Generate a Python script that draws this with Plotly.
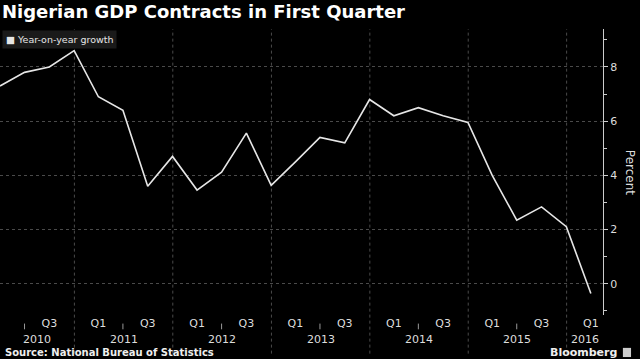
import plotly.graph_objects as go
import pandas as pd

# ---- data ----
quarters = ["2010-03-31", "2010-06-30", "2010-09-30", "2010-12-31",
            "2011-03-31", "2011-06-30", "2011-09-30", "2011-12-31",
            "2012-03-31", "2012-06-30", "2012-09-30", "2012-12-31",
            "2013-03-31", "2013-06-30", "2013-09-30", "2013-12-31",
            "2014-03-31", "2014-06-30", "2014-09-30", "2014-12-31",
            "2015-03-31", "2015-06-30", "2015-09-30", "2015-12-31",
            "2016-03-31"]
growth = [7.3, 7.8, 8.0, 8.6,
          6.9, 6.4, 3.6, 4.7,
          3.46, 4.12, 5.56, 3.63,
          4.5, 5.4, 5.2, 6.8,
          6.2, 6.5, 6.2, 5.95,
          4.0, 2.35, 2.84, 2.11,
          -0.36]
years = [2010, 2011, 2012, 2013, 2014, 2015, 2016]
tick_vals = ["2010-09-30", "2011-03-31", "2011-09-30", "2012-03-31", "2012-09-30",
             "2013-03-31", "2013-09-30", "2014-03-31", "2014-09-30",
             "2015-03-31", "2015-09-30", "2016-03-31"]
tick_text = ["Q3", "Q1", "Q3", "Q1", "Q3", "Q1", "Q3", "Q1", "Q3", "Q1", "Q3", "Q1"]
y_ticks = [0, 2, 4, 6, 8]

x_min = pd.Timestamp("2010-03-31")
x_max = pd.Timestamp("2016-05-15")

FONT = "DejaVu Sans"
TXT = "#dddddd"
GRID = "#4a4a4a"

fig = go.Figure()
fig.add_trace(go.Scatter(x=quarters, y=growth, mode="lines",
                         line=dict(color="#e6e6e6", width=1.6),
                         showlegend=False, name="Year-on-year growth"))

shapes = []
annotations = []
# year separators
for yr in years[1:]:
    d = pd.Timestamp(f"{yr}-01-01")
    shapes.append(dict(type="line", xref="x", yref="paper", x0=d, x1=d, y0=-0.135, y1=1,
                       line=dict(color=GRID, width=1, dash="dot"), layer="below"))
# mid-year small ticks and year labels
for yr in years:
    mid = pd.Timestamp(f"{yr}-06-30")
    if x_min <= mid <= x_max:
        shapes.append(dict(type="line", xref="x", yref="paper", x0=mid, x1=mid, y0=-0.03, y1=-0.05,
                           line=dict(color="#999999", width=1)))
    a = max(pd.Timestamp(f"{yr}-01-01"), x_min)
    b = min(pd.Timestamp(f"{yr + 1}-01-01"), x_max)
    c = a + (b - a) / 2
    annotations.append(dict(text=str(yr), xref="x", yref="paper", x=c, y=-0.085,
                            showarrow=False, font=dict(family=FONT, size=11, color=TXT),
                            xanchor="center", yanchor="middle"))

# legend-like box
annotations.append(dict(text="■ Year-on-year growth", xref="paper", yref="paper",
                        x=0.004, y=0.995, xanchor="left", yanchor="top", showarrow=False,
                        bgcolor="#1a1a1a", borderpad=3,
                        font=dict(family=FONT, size=9.5, color="#e6e6e6")))
# y-axis title
annotations.append(dict(text="Percent", xref="paper", yref="paper", x=1.045, y=0.5,
                        textangle=90, showarrow=False, xanchor="center", yanchor="middle",
                        font=dict(family=FONT, size=12, color=TXT)))
# footer
annotations.append(dict(text="<b>Source: National Bureau of Statistics</b>", xref="paper",
                        yref="paper", x=0.005, y=-0.13, xanchor="left", yanchor="middle",
                        showarrow=False,
                        font=dict(family=FONT, size=10, color="#eeeeee")))
annotations.append(dict(text="<b>Bloomberg</b>", xref="paper", yref="paper", x=1.027, y=-0.13,
                        xanchor="right", yanchor="middle", showarrow=False,
                        font=dict(family=FONT, size=11, color="#eeeeee")))
shapes.append(dict(type="rect", xref="paper", yref="paper", x0=1.033, x1=1.0465, y0=-0.147, y1=-0.115,
                   fillcolor="#cccccc", line=dict(width=0)))

fig.update_layout(
    width=640, height=359,
    paper_bgcolor="#000000", plot_bgcolor="#000000",
    margin=dict(l=0, r=37, t=29, b=44),
    title=dict(text="<b>Nigerian GDP Contracts in First Quarter</b>",
               x=0.003, xanchor="left", xref="container",
               y=0.985, yanchor="top", yref="container",
               font=dict(family=FONT, size=18, color="#ffffff")),
    xaxis=dict(type="date", range=[x_min, x_max], tickvals=tick_vals, ticktext=tick_text,
               showgrid=False, zeroline=False, showline=False, ticks="",
               tickfont=dict(family=FONT, size=11, color=TXT)),
    yaxis=dict(side="right", range=[-1.15, 9.4], tickvals=y_ticks,
               showgrid=True, gridcolor=GRID, griddash="dot", gridwidth=1,
               zeroline=False, showline=True, linecolor="#cccccc", linewidth=1,
               ticks="outside", ticklen=4, tickcolor="#cccccc",
               minor=dict(ticks="outside", ticklen=3, dtick=1, tick0=0, tickcolor="#cccccc",
                          showgrid=False),
               tickfont=dict(family=FONT, size=11, color=TXT)),
    shapes=shapes, annotations=annotations,
    showlegend=False,
)

fig.write_html("out.html", config={"displayModeBar": False},
               post_script="document.body.style.margin='0';")
